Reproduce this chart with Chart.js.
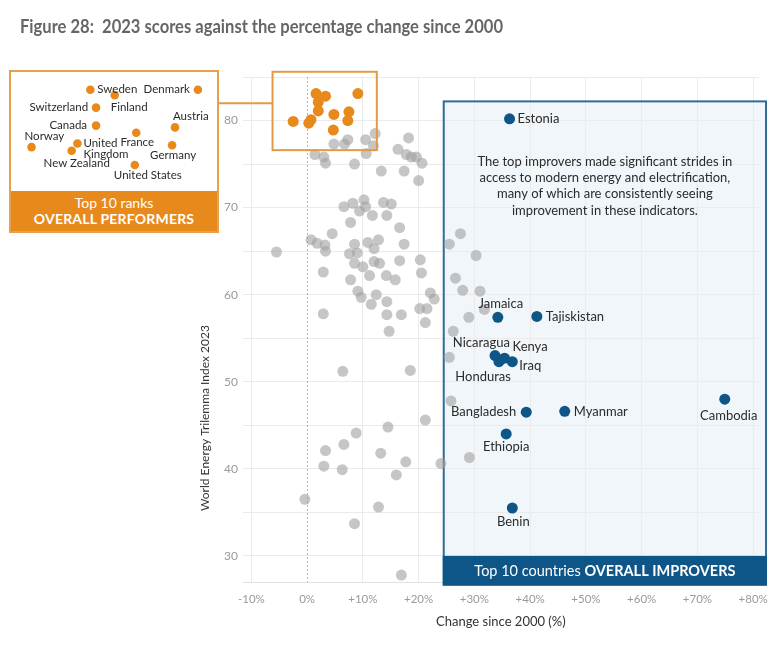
<!DOCTYPE html>
<html>
<head>
<meta charset="utf-8">
<script src="https://cdn.jsdelivr.net/npm/chart.js@4.4.1/dist/chart.umd.min.js"></script>
<style>
  body { margin: 0; background: #fff; font-family: Lato, 'Open Sans', sans-serif; }
  #wrap { position: relative; width: 778px; height: 650px; overflow: hidden; }
  #main { position: absolute; left: 0; top: 0; }
  h1 { position: absolute; left: 20px; top: 15px; margin: 0; font-size: 18px; font-weight: 700; color: #666; white-space: pre; transform-origin: left center; }
  #insetBox { position: absolute; left: 9px; top: 70px; width: 206px; height: 159px; border: 2px solid #E9A04C; background: #fff; }
  #insetBand { position: absolute; left: 0; right: 0; bottom: 0; height: 40px; background: #E8891C; color: #fff; text-align: center; font-size: 14px; line-height: 16px; padding-top: 4px; box-sizing: border-box; }
  #insetBand b { font-weight: 700; letter-spacing: 0.2px; }
  #inset { position: absolute; left: 10px; top: 72px; }
</style>
</head>
<body>
<div id="wrap">
  <canvas id="main" width="778" height="650"></canvas>
  <h1 id="title">Figure 28:  2023 scores against the percentage change since 2000</h1>
  <div id="insetBox">
    <div id="insetBand">Top 10 ranks<br><b>OVERALL PERFORMERS</b></div>
  </div>
  <canvas id="inset" width="208" height="119"></canvas>
</div>
<script>
  // axis ticks
  const X_TICKS = [-10, 0, 10, 20, 30, 40, 50, 60, 70, 80];
  const Y_TICKS = [30, 35, 40, 45, 50, 55, 60, 65, 70, 75, 80, 85];

  // top 10 improvers (blue)
  const IMPROVERS = ['Estonia', 'Jamaica', 'Tajiskistan', 'Nicaragua', 'Kenya', 'Honduras', 'Iraq', 'Bangladesh', 'Myanmar', 'Cambodia', 'Ethiopia', 'Benin'];
  const IMPROVER_X = [36.3, 34.2, 41.2, 33.7, 35.4, 34.4, 36.8, 39.3, 46.2, 74.9, 35.7, 36.8];
  const IMPROVER_Y = [80.2, 57.4, 57.5, 53.0, 52.7, 52.3, 52.3, 46.5, 46.6, 48.0, 44.0, 35.5];

  // top 10 ranked (orange)
  const TOP_RANKED = ['Denmark', 'Sweden', 'Finland', 'Switzerland', 'Austria', 'Canada', 'France', 'Norway', 'United Kingdom', 'Germany', 'New Zealand', 'United States'];
  const TOP_X = [9.1, 1.6, 3.3, 2.0, 7.5, 2.0, 4.8, -2.5, 0.7, 7.3, 0.3, 4.7];
  const TOP_Y = [83.1, 83.1, 82.8, 82.1, 81.0, 81.1, 80.7, 79.9, 80.1, 80.0, 79.7, 78.9];

  // all other countries (grey)
  const OTHER_X = [
    12.2, 7.3, 10.5, 18.2, 4.8, 6.7, 11.9, 16.3, 1.4, 3.0, 3.3, 10.6, 17.8, 18.7, 19.6, 20.6, 8.5, 13.3, 17.4, 20.0,
    10.2, 6.6, 8.2, 9.4, 10.5, 13.7, 15.1, 11.7, 14.3, 7.8, 16.6, 4.5, 0.7, 1.8, 3.2, 3.3, -5.5, 8.5, 10.9, 12.8,
    12.0, 17.4, 7.6, 9.0, 27.5, 25.5, 30.3, 20.3, 16.6, 12.0, 13.0, 8.5, 10.0, 2.9, 11.2, 14.2, 15.8, 20.5, 7.8, 9.1,
    9.7, 12.4, 14.3, 11.5, 20.2, 21.5, 22.1, 22.8, 14.3, 16.9, 21.2, 14.7, 2.9, 6.4, 18.5, 14.5, 21.2, 8.8, 6.6, 13.2,
    3.3, 26.6, 27.9, 31.0, 31.8, 29.0, 26.2, 25.5, 25.8, 3.0, 6.3, 16.0, 17.7, 24.0, 29.1, -0.4, 12.8, 8.5, 16.9
  ];
  const OTHER_Y = [
    78.5, 77.8, 77.8, 78.0, 77.3, 77.3, 77.1, 76.7, 76.1, 75.8, 75.1, 76.2, 76.1, 75.8, 75.8, 75.1, 75.0, 74.2, 74.2, 73.1,
    70.9, 70.1, 70.5, 69.6, 70.1, 70.6, 70.4, 69.1, 69.1, 68.3, 67.7, 67.0, 66.3, 65.9, 65.7, 65.0, 64.9, 65.8, 66.0, 66.3,
    65.3, 65.8, 64.7, 64.8, 67.0, 65.8, 64.5, 64.0, 63.9, 63.8, 63.6, 63.6, 63.2, 62.6, 62.2, 62.2, 61.7, 62.5, 61.7, 60.4,
    59.7, 60.0, 59.2, 58.9, 58.4, 58.4, 60.2, 59.5, 57.7, 57.7, 56.8, 55.8, 57.8, 51.2, 51.3, 44.8, 45.6, 44.1, 42.8, 41.8,
    42.1, 61.9, 60.5, 60.4, 58.3, 57.4, 55.8, 52.8, 47.8, 40.3, 39.9, 39.3, 40.8, 40.6, 41.3, 36.5, 35.6, 33.7, 27.8
  ];

  const BLUE = '#0E5687';
  const ORANGE = '#E8891C';
  const GREY = 'rgba(160,160,160,0.6)';
  const FONT = 'Lato, "Open Sans", sans-serif';

  // annotation boxes, in data units
  const IMPROVER_BOX = { x0: 24.5, x1: 82.3, y0: 26.7, y1: 82.2, band: 30 };
  const PERFORMER_BOX = { x0: -6.2, x1: 12.5, y0: 76.6, y1: 85.6 };

  const MAIN_LABELS = {
    Estonia: { dx: 8, dy: 0, align: 'left' },
    Jamaica: { dx: 3, dy: -13, align: 'center' },
    Tajiskistan: { dx: 9, dy: 0, align: 'left' },
    Nicaragua: { dx: 15, dy: -13, align: 'right' },
    Kenya: { dx: 8, dy: -11, align: 'left' },
    Iraq: { dx: 7, dy: 4, align: 'left' },
    Honduras: { dx: 12, dy: 15, align: 'right' },
    Bangladesh: { dx: -10, dy: 0, align: 'right' },
    Myanmar: { dx: 9, dy: 0, align: 'left' },
    Cambodia: { dx: 4, dy: 17, align: 'center' },
    Ethiopia: { dx: 0, dy: 13, align: 'center' },
    Benin: { dx: 1, dy: 14, align: 'center' },
  };

  const INSET_LABELS = {
    Sweden: { dx: 7, dy: 0, align: 'left' },
    Denmark: { dx: -8, dy: 0, align: 'right' },
    Finland: { dx: -4, dy: 12, align: 'left' },
    Switzerland: { dx: -8, dy: 0, align: 'right' },
    Austria: { dx: -2, dy: -11, align: 'left' },
    Canada: { dx: -9, dy: 0, align: 'right' },
    France: { dx: 1, dy: 10, align: 'center' },
    Norway: { dx: -7, dy: -11, align: 'left' },
    'United Kingdom': { dx: 6, dy: 0, align: 'left', wrap: true },
    Germany: { dx: 1, dy: 10, align: 'center' },
    'New Zealand': { dx: 5, dy: 13, align: 'center' },
    'United States': { dx: 13, dy: 10, align: 'center' },
  };

  const NOTE = [
    'The top improvers made significant strides in',
    'access to modern energy and electrification,',
    'many of which are consistently seeing',
    'improvement in these indicators.',
  ];

  function toPoints(xs, ys) {
    return xs.map((x, i) => ({ x, y: ys[i] }));
  }

  function drawLabels(ctx, meta, names, styles, size) {
    ctx.save();
    ctx.font = `${size}px ${FONT}`;
    ctx.fillStyle = '#2b2b2b';
    ctx.textBaseline = 'middle';
    meta.data.forEach((pt, i) => {
      const s = styles[names[i]];
      if (!s) return;
      ctx.textAlign = s.align;
      const lines = s.wrap ? names[i].split(' ') : [names[i]];
      lines.forEach((line, k) => ctx.fillText(line, pt.x + s.dx, pt.y + s.dy + k * 11));
    });
    ctx.restore();
  }

  const overlay = {
    id: 'overlay',
    beforeDraw(chart) {
      const { ctx, scales: { x, y } } = chart;
      const b = IMPROVER_BOX;
      ctx.save();
      ctx.fillStyle = '#F0F6F9';
      ctx.fillRect(x.getPixelForValue(b.x0), y.getPixelForValue(b.y1),
        x.getPixelForValue(b.x1) - x.getPixelForValue(b.x0), y.getPixelForValue(b.y0) - y.getPixelForValue(b.y1));
      ctx.restore();
    },
    beforeDatasetsDraw(chart) {
      const { ctx, chartArea, scales: { x, y } } = chart;
      const zx = Math.round(x.getPixelForValue(0)) + 0.5;
      ctx.save();
      ctx.strokeStyle = '#b5b5b5';
      ctx.setLineDash([2, 2]);
      ctx.beginPath();
      ctx.moveTo(zx, chartArea.top);
      ctx.lineTo(zx, chartArea.bottom);
      ctx.stroke();
      ctx.setLineDash([]);

      const b = IMPROVER_BOX;
      const l = x.getPixelForValue(b.x0), r = x.getPixelForValue(b.x1);
      const t = y.getPixelForValue(b.y1), btm = y.getPixelForValue(b.y0);
      ctx.strokeStyle = '#2F6C96';
      ctx.lineWidth = 2;
      ctx.strokeRect(l, t, r - l, btm - t);

      ctx.font = `13px ${FONT}`;
      ctx.fillStyle = '#2b2b2b';
      ctx.textAlign = 'center';
      ctx.textBaseline = 'middle';
      NOTE.forEach((line, i) => ctx.fillText(line, (l + r) / 2, t + 60 + i * 16.4));
      ctx.restore();
    },
    afterDatasetsDraw(chart) {
      const { ctx, scales: { x, y } } = chart;
      const b = IMPROVER_BOX;
      const l = x.getPixelForValue(b.x0), r = x.getPixelForValue(b.x1);
      const bandTop = y.getPixelForValue(b.band), btm = y.getPixelForValue(b.y0);
      ctx.save();
      ctx.fillStyle = BLUE;
      ctx.fillRect(l - 1, bandTop, r - l + 2, btm - bandTop + 1);
      const normal = 'Top 10 countries ', bold = 'OVERALL IMPROVERS';
      ctx.font = `14.5px ${FONT}`;
      const w1 = ctx.measureText(normal).width;
      ctx.font = `bold 14.5px ${FONT}`;
      const w2 = ctx.measureText(bold).width;
      const sx = (l + r) / 2 - (w1 + w2) / 2, cy = (bandTop + btm) / 2 + 1;
      ctx.fillStyle = '#fff';
      ctx.textBaseline = 'middle';
      ctx.textAlign = 'left';
      ctx.font = `14.5px ${FONT}`;
      ctx.fillText(normal, sx, cy);
      ctx.font = `bold 14.5px ${FONT}`;
      ctx.fillText(bold, sx + w1, cy);

      const p = PERFORMER_BOX;
      const pl = x.getPixelForValue(p.x0), pr = x.getPixelForValue(p.x1);
      const pt = y.getPixelForValue(p.y1), pb = y.getPixelForValue(p.y0);
      ctx.strokeStyle = '#E39A45';
      ctx.lineWidth = 2;
      ctx.strokeRect(pl, pt, pr - pl, pb - pt);
      ctx.beginPath();
      ctx.moveTo(217, pt + 31.5);
      ctx.lineTo(pl, pt + 31.5);
      ctx.stroke();
      ctx.restore();

      drawLabels(ctx, chart.getDatasetMeta(0), IMPROVERS, MAIN_LABELS, 13);
    },
    afterDraw(chart) {
      const { ctx } = chart;
      ctx.save();
      ctx.translate(205, 418);
      ctx.rotate(-Math.PI / 2);
      ctx.font = `12px ${FONT}`;
      ctx.fillStyle = '#333';
      ctx.textAlign = 'center';
      ctx.textBaseline = 'middle';
      ctx.fillText('World Energy Trilemma Index 2023', 0, 0);
      ctx.restore();
    },
  };

  const pointStyle = (color, r) => ({
    backgroundColor: color,
    pointRadius: r,
    pointHoverRadius: r,
    pointBorderWidth: 0,
    borderWidth: 0,
  });

  new Chart(document.getElementById('main'), {
    type: 'scatter',
    data: {
      datasets: [
        { label: 'Top improvers', data: toPoints(IMPROVER_X, IMPROVER_Y), ...pointStyle(BLUE, 5.5) },
        { label: 'Top ranked', data: toPoints(TOP_X, TOP_Y), ...pointStyle(ORANGE, 5.5) },
        { label: 'Others', data: toPoints(OTHER_X, OTHER_Y), ...pointStyle(GREY, 5.5) },
      ],
    },
    options: {
      responsive: false,
      animation: false,
      layout: { padding: { top: 77, right: 18, left: 0, bottom: 0 } },
      plugins: { legend: { display: false }, tooltip: { enabled: false } },
      scales: {
        x: {
          type: 'linear',
          min: -11.5,
          max: 81,
          afterFit: (s) => { s.height = 68; },
          afterBuildTicks: (s) => { s.ticks = X_TICKS.map((v) => ({ value: v })); },
          grid: { color: (c) => (c.tick && c.tick.value === 0 ? 'rgba(0,0,0,0)' : '#ebebeb'), drawTicks: false },
          border: { display: true, color: '#e2e2e2' },
          ticks: {
            padding: 10,
            color: '#9a9a9a',
            font: { family: FONT, size: 11.5 },
            callback: (v) => (v > 0 ? '+' + v + '%' : v + '%'),
          },
          title: {
            display: true,
            text: 'Change since 2000 (%)',
            color: '#333',
            font: { family: FONT, size: 13 },
            padding: { top: 0, bottom: 20 },
          },
        },
        y: {
          type: 'linear',
          min: 27,
          max: 85,
          afterFit: (s) => { s.width = 243; },
          afterBuildTicks: (s) => { s.ticks = Y_TICKS.map((v) => ({ value: v })); },
          grid: { color: '#ebebeb', drawTicks: false },
          border: { display: false },
          ticks: {
            padding: 5,
            color: '#9a9a9a',
            font: { family: FONT, size: 12 },
            callback: (v) => (v % 10 === 0 ? v : ''),
          },
        },
      },
    },
    plugins: [overlay],
  });

  // magnified view of the top performers
  new Chart(document.getElementById('inset'), {
    type: 'scatter',
    data: { datasets: [{ label: 'Top ranked', data: toPoints(TOP_X, TOP_Y), ...pointStyle(ORANGE, 4.3) }] },
    options: {
      responsive: false,
      animation: false,
      layout: { padding: 0 },
      plugins: { legend: { display: false }, tooltip: { enabled: false } },
      scales: {
        x: { type: 'linear', min: -3.7, max: 10.2, display: false },
        y: { type: 'linear', min: 77.69, max: 83.85, display: false },
      },
    },
    plugins: [{
      id: 'insetLabels',
      afterDatasetsDraw(chart) {
        drawLabels(chart.ctx, chart.getDatasetMeta(0), TOP_RANKED, INSET_LABELS, 11.5);
      },
    }],
  });

  // fit the heading to the reference width
  const title = document.getElementById('title');
  title.style.transform = `scaleX(${483 / title.getBoundingClientRect().width})`;
</script>
</body>
</html>
